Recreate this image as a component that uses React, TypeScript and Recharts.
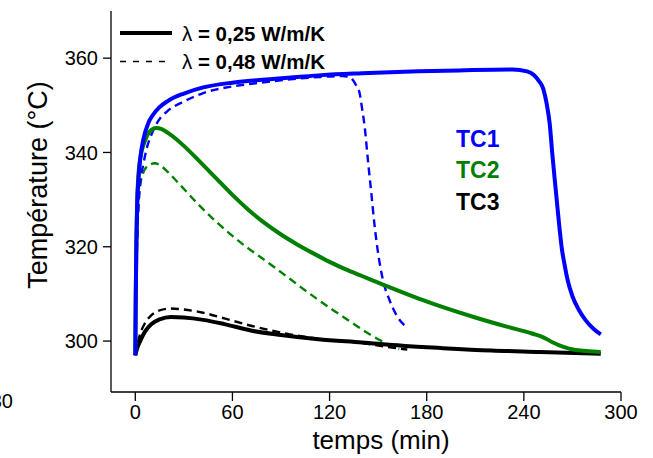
import React from "react";
import { LineChart, Line, XAxis, YAxis } from "recharts";

// [temps (min), température (°C)]
const tc1Solid: [number, number][] = [
  [0, 297], [0.3, 310], [0.7, 321], [1.2, 329], [2, 334.5], [3, 338.5], [5, 342.8], [8, 346.2],
  [11, 348], [15, 349.6], [20, 350.9], [30, 352.5], [42, 353.8], [60, 354.8], [75, 355.3],
  [100, 356], [115, 356.4], [140, 356.8], [175, 357.2], [200, 357.4], [233, 357.6], [242, 357.2],
  [246, 356.5], [249, 355.3], [252, 353.5], [254, 350.5], [256, 346], [257.5, 340], [259, 334.5],
  [260, 331], [262, 324], [263.5, 319.5], [265, 316.5], [267, 313], [270, 309.5], [274, 306.6],
  [278, 304.5], [283, 302.6], [287.5, 301.4],
];
const tc1Dashed: [number, number][] = [
  [0, 297], [0.4, 308], [0.9, 318], [1.5, 325], [2.2, 330], [3, 333.5], [5, 337.5], [7, 340.8],
  [10, 343.8], [14, 346.6], [20, 348.8], [30, 350.8], [42, 352.6], [60, 354], [73, 354.6],
  [90, 355.3], [114, 356], [128, 356.2], [131, 356.1], [133.5, 355.7], [136, 354.5],
  [138.6, 352.5], [140, 349.5], [141.7, 345.4], [143.7, 338.3], [145.8, 331.3], [147.9, 324.2],
  [150, 318.6], [153, 312.9], [157, 308.7], [162, 305.1], [167.5, 303],
];
const tc2Solid: [number, number][] = [
  [0, 297], [0.3, 310], [0.7, 322], [1.2, 330], [2, 335.5], [3, 338.6], [4, 340.4], [6, 342.5],
  [8, 344], [10, 344.8], [13, 345.2], [16, 345], [20, 344.2], [25, 342.9], [30, 341.4],
  [40, 338], [50, 334.5], [60, 331], [70, 327.8], [80, 325], [90, 322.6], [100, 320.5],
  [110, 318.6], [120, 316.8], [130, 315.2], [140, 313.8], [150, 312.4], [160, 311], [175, 309],
  [190, 307.2], [210, 305], [230, 303], [245, 301.6], [252, 300.8], [258, 299.7], [264, 298.8],
  [272, 298.1], [287.5, 297.7],
];
const tc2Dashed: [number, number][] = [
  [0, 297], [0.4, 309], [1, 321], [1.7, 327.5], [2.5, 331.5], [3.5, 334], [5, 335.8], [8, 337.2],
  [12, 337.7], [16, 337.1], [20, 335.9], [28, 333], [40, 328.6], [50, 325.3], [60, 322.3],
  [70, 319.6], [81, 316.9], [92, 314.1], [102, 311.5], [112, 309], [122, 306.6], [133, 304.1],
  [143, 301.8], [150, 300.4], [155, 299.5], [160, 298.7], [163, 298.3],
];
const tc3Solid: [number, number][] = [
  [0, 297], [1, 298.3], [3, 300], [6, 302], [10, 303.6], [15, 304.6], [22, 305.1], [30, 305],
  [42, 304.5], [55, 303.6], [72, 302.2], [90, 301.3], [113, 300.4], [140, 299.7], [165, 299],
  [190, 298.5], [220, 298], [250, 297.7], [287.5, 297.3],
];
const tc3Dashed: [number, number][] = [
  [0, 297], [1, 298.8], [3, 301.5], [6, 303.8], [10, 305.5], [15, 306.5], [22, 306.9], [30, 306.7],
  [42, 306], [55, 304.8], [72, 303.2], [90, 301.8], [113, 300.5], [140, 299.6], [155, 298.8],
  [168, 298.2],
];

const TIME_TICKS = [0, 60, 120, 180, 240, 300];
const TEMP_TICKS = [300, 320, 340, 360];

const BLUE = "#0000ff";
const GREEN = "#008000";
const BLACK = "#000000";
const FONT = "'Liberation Sans', Arial, sans-serif";

const toRows = (pts: [number, number][]) => pts.map(([t, T]) => ({ t, T }));

const series = [
  { name: "TC2 0,48", data: tc2Dashed, color: GREEN, dashed: true },
  { name: "TC3 0,48", data: tc3Dashed, color: BLACK, dashed: true },
  { name: "TC1 0,48", data: tc1Dashed, color: BLUE, dashed: true },
  { name: "TC3 0,25", data: tc3Solid, color: BLACK, dashed: false },
  { name: "TC2 0,25", data: tc2Solid, color: GREEN, dashed: false },
  { name: "TC1 0,25", data: tc1Solid, color: BLUE, dashed: false },
];

const tickStyle = { fontSize: 20, fill: "#000", fontFamily: FONT };

export default function App() {
  return (
    <div style={{ position: "absolute", left: 0, top: 0, width: 653, height: 458, background: "#fff" }}>
      <LineChart width={653} height={458} margin={{ top: 11, right: 32, bottom: 0, left: 0 }}>
        <XAxis
          xAxisId="b"
          type="number"
          dataKey="t"
          domain={[-15, 300]}
          ticks={TIME_TICKS}
          allowDataOverflow
          height={66}
          tickSize={9}
          tickMargin={4}
          axisLine={{ stroke: "#000", strokeWidth: 1.3 }}
          tickLine={{ stroke: "#000", strokeWidth: 1.3 }}
          tick={tickStyle}
        />
        <XAxis xAxisId="top" orientation="top" type="number" dataKey="t" domain={[-15, 300]} height={0}
          tick={false} tickLine={false} axisLine={{ stroke: "#000", strokeWidth: 1.3 }} />
        <YAxis
          yAxisId="l"
          type="number"
          domain={[289.2, 370]}
          ticks={TEMP_TICKS}
          allowDataOverflow
          width={111}
          tickSize={8}
          tickMargin={5}
          axisLine={{ stroke: "#000", strokeWidth: 1.3 }}
          tickLine={{ stroke: "#000", strokeWidth: 1.3 }}
          tick={tickStyle}
        />
        <YAxis yAxisId="r" orientation="right" type="number" domain={[289.2, 370]} width={0}
          tick={false} tickLine={false} axisLine={{ stroke: "#000", strokeWidth: 1.3 }} />
        {series.map((s) => (
          <Line
            key={s.name}
            xAxisId="b"
            yAxisId="l"
            data={toRows(s.data)}
            dataKey="T"
            type="monotone"
            stroke={s.color}
            strokeWidth={s.dashed ? 2.4 : 4}
            strokeDasharray={s.dashed ? "8 5" : undefined}
            dot={false}
            activeDot={false}
            isAnimationActive={false}
          />
        ))}
      </LineChart>
      <svg width={653} height={458} style={{ position: "absolute", left: 0, top: 0, pointerEvents: "none" }}>
        <line x1={120} x2={172} y1={33} y2={33} stroke="#000" strokeWidth={4} />
        <line x1={120} x2={167} y1={61.5} y2={61.5} stroke="#000" strokeWidth={1.4} strokeDasharray="6 7" />
        <text x={182} y={40.5} fontFamily={FONT} fontSize={20.5} fontWeight="bold">
          <tspan fontWeight="normal">λ</tspan> = 0,25 W/m/K
        </text>
        <text x={182} y={69} fontFamily={FONT} fontSize={20.5} fontWeight="bold">
          <tspan fontWeight="normal">λ</tspan> = 0,48 W/m/K
        </text>
        <text x={456} y={146.5} fontFamily={FONT} fontSize={23} fontWeight="bold" fill={BLUE}>TC1</text>
        <text x={456} y={178.3} fontFamily={FONT} fontSize={23} fontWeight="bold" fill={GREEN}>TC2</text>
        <text x={456} y={210} fontFamily={FONT} fontSize={23} fontWeight="bold" fill={BLACK}>TC3</text>
        <text x={381} y={449} textAnchor="middle" fontFamily={FONT} fontSize={26}>temps (min)</text>
        <text x={0} y={0} textAnchor="middle" fontFamily={FONT} fontSize={27}
          transform="translate(47 185) rotate(-90)">Température (°C)</text>
        <text x={13} y={408} textAnchor="end" fontFamily={FONT} fontSize={20}>280</text>
      </svg>
    </div>
  );
}
